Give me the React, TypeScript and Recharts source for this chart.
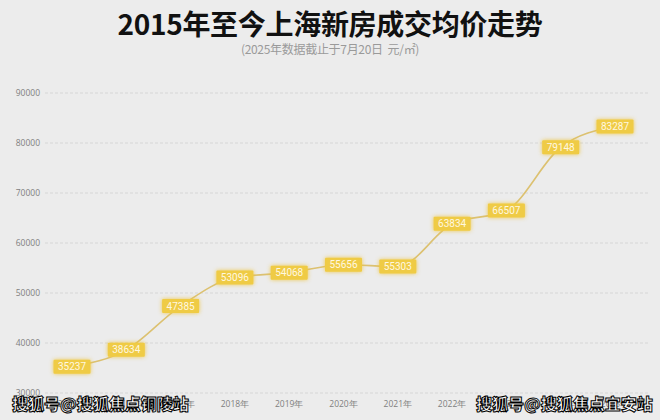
import React from 'react';
import { LineChart, Line, XAxis, YAxis, CartesianGrid, LabelList } from 'recharts';

const years = ['2015年', '2016年', '2017年', '2018年', '2019年', '2020年', '2021年', '2022年', '2023年', '2024年', '2025年'];
const prices = [35237, 38634, 47385, 53096, 54068, 55656, 55303, 63834, 66507, 79148, 83287];
const yTicks = [30000, 40000, 50000, 60000, 70000, 80000, 90000];

const data = years.map((year, i) => ({ year, price: prices[i] }));

const PriceTag = (props: any) => {
  const { x, y, value } = props;
  const w = 37;
  const h = 14;
  return (
    <g>
      <rect
        x={x - w / 2}
        y={y - h / 2}
        width={w}
        height={h}
        rx={1}
        fill="#efcb45"
        style={{ filter: 'drop-shadow(0 0 2px rgba(238,196,60,0.9))' }}
      />
      <text x={x} y={y + 3.5} textAnchor="middle" fontSize={10} fill="#fff8e0" fontFamily="Roboto, sans-serif">
        {value}
      </text>
    </g>
  );
};

const watermark: React.CSSProperties = {
  position: 'absolute',
  top: 393,
  fontSize: 16,
  lineHeight: '20px',
  fontWeight: 900,
  color: '#fff',
  fontFamily: '"Noto Sans CJK SC", sans-serif',
  WebkitTextStroke: '1px #000',
  whiteSpace: 'nowrap',
};

const tickStyle = { fontSize: 8.5, fill: '#808080', fontFamily: '"Open Sans", sans-serif' };

const App = () => {
  return (
    <div style={{ position: 'fixed', left: 0, top: 0, width: 660, height: 420, background: '#ececec', overflow: 'hidden' }}>
      <div
        style={{
          position: 'absolute',
          top: 3,
          left: 0,
          width: 660,
          textAlign: 'center',
          fontSize: 28,
          fontWeight: 700,
          color: '#111',
          fontFamily: '"Noto Sans CJK SC", sans-serif',
          letterSpacing: -0.3,
        }}
      >
        2015年至今上海新房成交均价走势
      </div>
      <div
        style={{
          position: 'absolute',
          top: 40,
          left: 0,
          width: 660,
          textAlign: 'center',
          fontSize: 12,
          color: '#9a9a9a',
          fontFamily: '"Noto Sans CJK SC", sans-serif',
          letterSpacing: -0.3,
        }}
      >
        (2025年数据截止于7月20日&nbsp;&nbsp;元/㎡)
      </div>
      <div style={{ position: 'absolute', left: 0, top: 0 }}>
        <LineChart width={660} height={420} data={data} margin={{ top: 93, right: 10, bottom: 0, left: 0 }}>
          <CartesianGrid horizontal vertical={false} stroke="#d6d6d6" strokeDasharray="3 2" />
          <XAxis
            dataKey="year"
            height={27}
            axisLine={false}
            tickLine={false}
            tickSize={0}
            tickMargin={8}
            padding={{ left: 27, right: 35 }}
            tick={tickStyle}
            interval={0}
          />
          <YAxis
            width={45}
            domain={[30000, 90000]}
            ticks={yTicks}
            axisLine={false}
            tickLine={false}
            tickSize={0}
            tickMargin={5}
            tick={tickStyle}
          />
          <Line
            type="monotone"
            dataKey="price"
            stroke="#dcc170"
            strokeWidth={1.6}
            dot={false}
            isAnimationActive={false}
          >
            <LabelList dataKey="price" content={<PriceTag />} />
          </Line>
        </LineChart>
      </div>
      <div style={{ ...watermark, left: 12 }}>搜狐号@搜狐焦点铜陵站</div>
      <div style={{ ...watermark, left: 476 }}>搜狐号@搜狐焦点宜安站</div>
    </div>
  );
};

export default App;
